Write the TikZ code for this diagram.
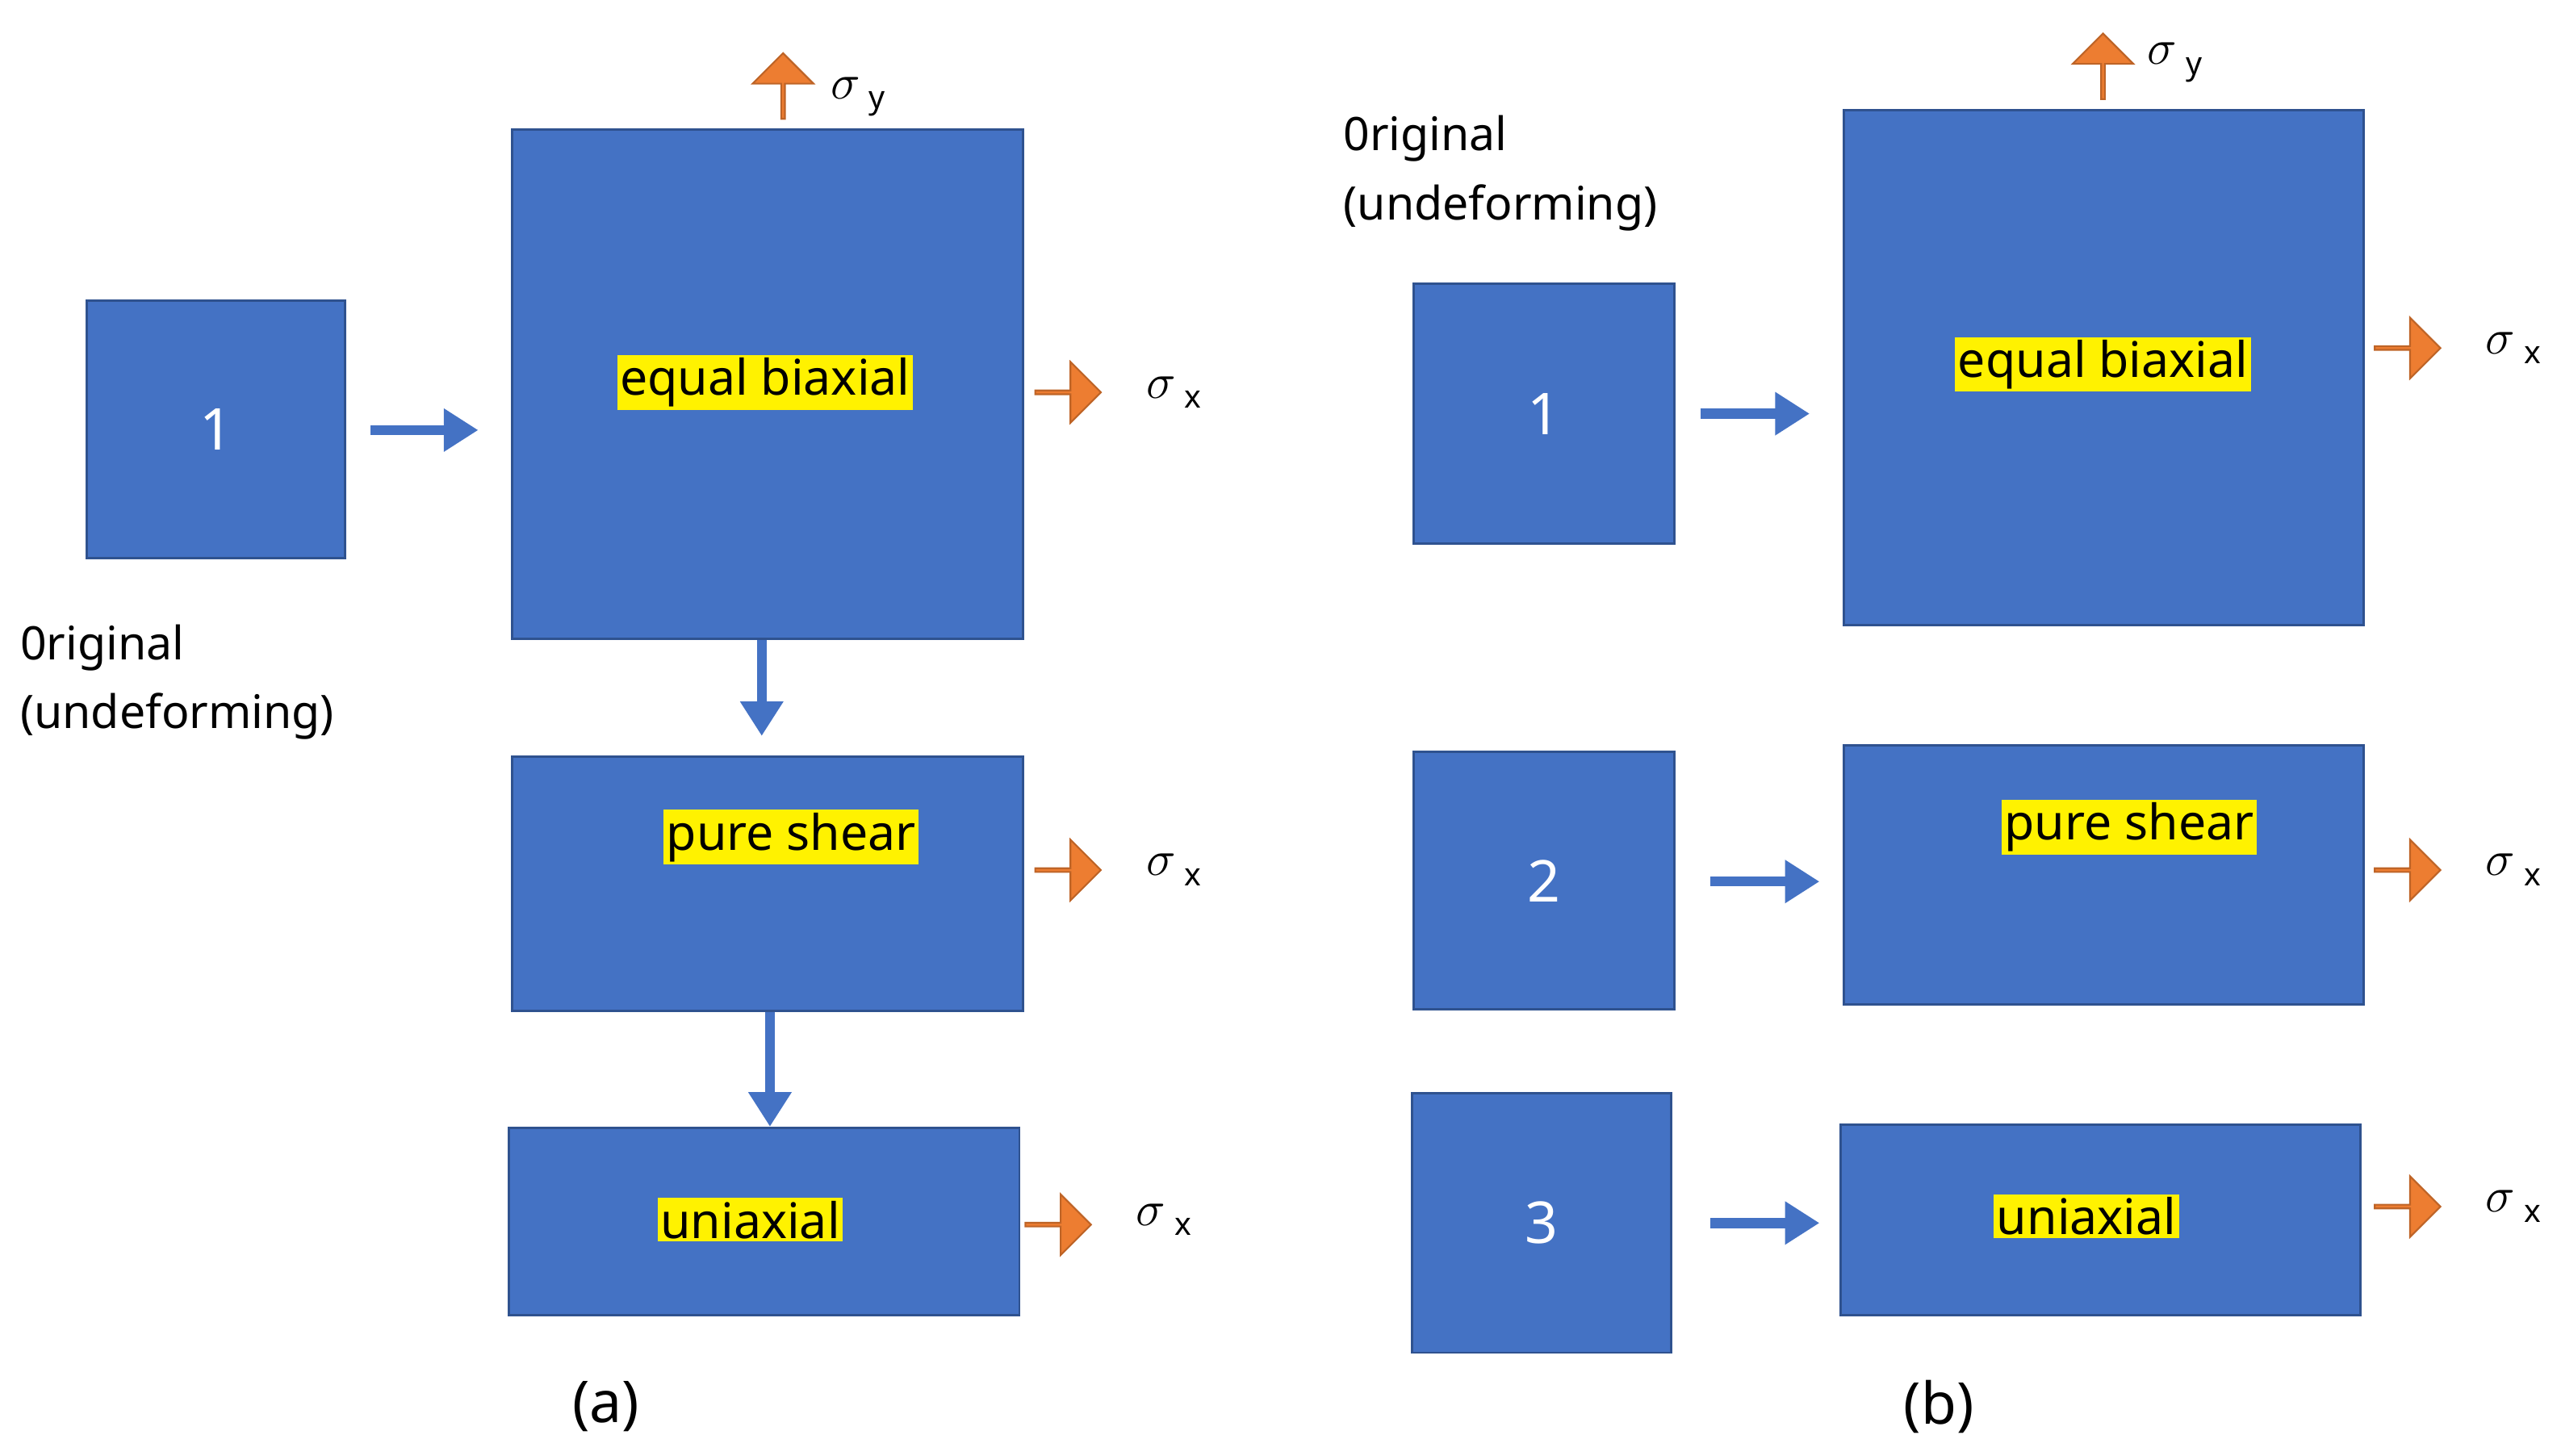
\documentclass[tikz,border=0pt]{standalone}
\usepackage{fontspec}
\setmainfont{Noto Sans}
\usetikzlibrary{positioning}
\usetikzlibrary{shapes.arrows,arrows.meta}
\usetikzlibrary{calc}
\definecolor{boxblue}{HTML}{4472C4}
\definecolor{boxedge}{HTML}{2F528F}
\definecolor{stressorange}{HTML}{ED7D31}
\tikzset{
  sample/.style={draw=boxedge,line width=0.8pt,fill=boxblue,inner sep=0pt,
    text=white,font=\fontsize{20}{24}\selectfont},
  mode/.style={fill=yellow,inner sep=1pt,text=black,font=\fontsize{17}{20}\selectfont},
  load/.style={single arrow,draw=stressorange!80!black,fill=stressorange,line width=0.6pt,
    minimum height=0.8cm,minimum width=0.74cm,single arrow head extend=0.16cm,inner sep=0pt},
  flow/.style={draw=boxblue,line width=3.5pt,-{Triangle[length=0.42cm,width=0.5cm]}},
  stress/.style={font=\fontsize{18}{20}\selectfont},
  caption/.style={font=\fontsize{16}{24}\selectfont,align=left,anchor=north west,inner sep=0pt}
}
\newcommand{\sig}[1]{$\sigma$\,{\fontsize{11}{12}\selectfont\raisebox{-0.6ex}{#1}}}
\begin{document}
\begin{tikzpicture}[x=0.02cm,y=-0.02cm]
  \useasboundingbox (0,0) rectangle (1560,886.5);
  % (a)
  \node[sample,minimum width=3.14cm,minimum height=3.14cm] (A1) at (131.5,261.5) {1};
  \node[sample,minimum width=6.22cm,minimum height=6.2cm] (Aeq) at (467.5,234) {};
  \node[sample,minimum width=6.22cm,minimum height=3.1cm] (Aps) at (467.5,538.5) {};
  \node[sample,minimum width=6.22cm,minimum height=2.28cm] (Auni) at (465.5,744) {};
  \node[mode] (AeqL) at (466,233) {equal biaxial};
  \node[mode] (ApsL) at (482,510) {pure shear};
  \node[mode] (AuniL) at (457,743) {uniaxial};
  \node[caption] (Aorig) at (12,380) {0riginal\\(undeforming)};
  \draw[flow,shorten <=15*0.02cm,shorten >=20*0.02cm] (A1.east|-230,262) -- (Aeq.west|-230,262);
  \draw[flow,shorten >=12*0.02cm] (Aeq.south-|464,0) -- (Aps.north-|464,0);
  \draw[flow] (Aps.south-|469,0) -- (Auni.north-|469,0);
  \node[load,rotate=90] (Aup) at (477,53) {};
  \node[stress,anchor=west] (Asy) at (500,59) {\sig{y}};
  \node[load] (Ar1) at (650,239) {};
  \node[stress,anchor=west] (Asx1) at (692,239) {\sig{x}};
  \node[load] (Ar2) at (650,530) {};
  \node[stress,anchor=west] (Asx2) at (692,530) {\sig{x}};
  \node[load] (Ar3) at (644,746) {};
  \node[stress,anchor=west] (Asx3) at (686,743) {\sig{x}};
  \node[font=\fontsize{20}{24}\rmfamily\bfseries] (Acap) at (369,857) {(a)};
  % (b)
  \node[caption] (Borig) at (818,70) {0riginal\\(undeforming)};
  \node[sample,minimum width=3.18cm,minimum height=3.16cm] (B1) at (940.5,252) {1};
  \node[sample,minimum width=3.18cm,minimum height=3.14cm] (B2) at (940.5,536.5) {2};
  \node[sample,minimum width=3.16cm,minimum height=3.16cm] (B3) at (939,745) {3};
  \node[sample,minimum width=6.34cm,minimum height=6.28cm] (Beq) at (1281.5,224) {};
  \node[sample,minimum width=6.34cm,minimum height=3.16cm] (Bps) at (1281.5,533) {};
  \node[sample,minimum width=6.34cm,minimum height=2.32cm] (Buni) at (1279.5,743) {};
  \node[mode] (BeqL) at (1281,222) {equal biaxial};
  \node[mode] (BpsL) at (1297,504) {pure shear};
  \node[mode] (BuniL) at (1271,741) {uniaxial};
  \draw[flow,shorten <=15*0.02cm,shorten >=20*0.02cm] (B1.east|-0,252) -- (Beq.west|-0,252);
  \draw[flow,shorten <=21*0.02cm,shorten >=14*0.02cm] (B2.east|-0,537) -- (Bps.west|-0,537);
  \draw[flow,shorten <=23*0.02cm,shorten >=12*0.02cm] (B3.east|-0,745) -- (Buni.west|-0,745);
  \node[load,rotate=90] (Bup) at (1281,41) {};
  \node[stress,anchor=west] (Bsy) at (1302,38) {\sig{y}};
  \node[load] (Br1) at (1466,212) {};
  \node[stress,anchor=west] (Bsx1) at (1508,212) {\sig{x}};
  \node[load] (Br2) at (1466,530) {};
  \node[stress,anchor=west] (Bsx2) at (1508,530) {\sig{x}};
  \node[load] (Br3) at (1466,735) {};
  \node[stress,anchor=west] (Bsx3) at (1508,735) {\sig{x}};
  \node[font=\fontsize{20}{24}\rmfamily\bfseries] (Bcap) at (1181,857) {(b)};
\end{tikzpicture}
\end{document}
